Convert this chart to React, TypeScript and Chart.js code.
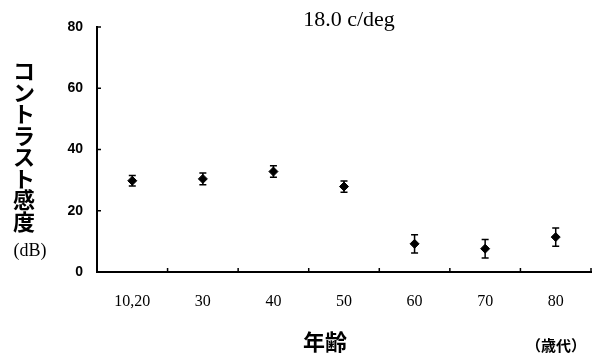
import React, { useEffect, useRef } from "react";
import { Chart, registerables } from "chart.js";

Chart.register(...registerables);

const categories = ["10,20", "30", "40", "50", "60", "70", "80"];
const means = [29.8, 30.4, 32.8, 27.9, 9.2, 7.6, 11.4];
const errors = [1.7, 1.9, 1.9, 1.85, 3.0, 3.0, 3.0];
const yTickValues = [0, 20, 40, 60, 80];

const titleText = "18.0 c/deg";
const yTitleText = "コントラスト感度";
const yUnitText = "(dB)";
const xTitleText = "年齢";
const xUnitText = "（歳代）";

const SERIF = "'Liberation Serif', 'Times New Roman', serif";
const SANS = "'Liberation Sans', Arial, sans-serif";
const CJK = "'Noto Sans CJK JP', 'Noto Sans CJK SC', sans-serif";

const decorPlugin = {
  id: "decor",
  afterDatasetsDraw(chart: any) {
    const ctx = chart.ctx;
    const x = chart.scales.x;
    const y = chart.scales.y;
    const area = chart.chartArea;
    ctx.save();
    ctx.strokeStyle = "#000";
    ctx.lineWidth = 1.5;
    means.forEach((m, i) => {
      const px = x.getPixelForValue(i);
      const top = y.getPixelForValue(m + errors[i]);
      const bot = y.getPixelForValue(m - errors[i]);
      ctx.beginPath();
      ctx.moveTo(px, top);
      ctx.lineTo(px, bot);
      ctx.moveTo(px - 3.5, top);
      ctx.lineTo(px + 3.5, top);
      ctx.moveTo(px - 3.5, bot);
      ctx.lineTo(px + 3.5, bot);
      ctx.stroke();
    });
    yTickValues.forEach((v) => {
      const py = y.getPixelForValue(v);
      ctx.beginPath();
      ctx.moveTo(area.left, py);
      ctx.lineTo(area.left + 4, py);
      ctx.stroke();
    });
    const step = (area.right - area.left) / categories.length;
    for (let i = 1; i <= categories.length; i++) {
      const px = area.left + i * step;
      ctx.beginPath();
      ctx.moveTo(px, area.bottom);
      ctx.lineTo(px, area.bottom - 4);
      ctx.stroke();
    }
    ctx.restore();
  },
  afterDraw(chart: any) {
    const ctx = chart.ctx;
    ctx.save();
    ctx.fillStyle = "#000";
    ctx.font = `22px ${SERIF}`;
    ctx.textAlign = "center";
    ctx.textBaseline = "middle";
    ctx.fillText(titleText, 349, 20);
    ctx.font = `bold 22px ${CJK}`;
    const chars = Array.from(yTitleText);
    chars.forEach((c, i) => {
      ctx.fillText(c, 24, 71 + i * 21.5);
    });
    ctx.font = `18px ${SERIF}`;
    ctx.fillText(yUnitText, 30, 251);
    ctx.font = `bold 22px ${CJK}`;
    ctx.fillText(xTitleText, 325, 342);
    ctx.font = `bold 15px ${CJK}`;
    ctx.fillText(xUnitText, 556, 345);
    ctx.restore();
  },
};

export default function App() {
  const ref = useRef<HTMLCanvasElement>(null);
  useEffect(() => {
    if (!ref.current) return;
    const chart = new Chart(ref.current, {
      type: "line",
      data: {
        labels: categories,
        datasets: [
          {
            data: means,
            showLine: false,
            pointStyle: "rectRot",
            pointRadius: 4.5,
            pointBackgroundColor: "#000",
            pointBorderColor: "#000",
            borderColor: "#000",
          },
        ],
      },
      options: {
        responsive: false,
        animation: false,
        events: [],
        layout: { padding: { left: 0, top: 27, right: 9, bottom: 0 } },
        plugins: {
          legend: { display: false },
          title: { display: false },
          tooltip: { enabled: false },
        },
        scales: {
          x: {
            type: "category",
            offset: true,
            grid: { display: false, drawTicks: false },
            border: { display: true, color: "#000", width: 2 },
            ticks: {
              color: "#000",
              font: { family: SERIF, size: 16 },
              padding: 20,
              maxRotation: 0,
            },
            afterFit(scale: any) {
              scale.height = 86;
            },
          },
          y: {
            min: 0,
            max: 80,
            grid: { display: false, drawTicks: false },
            border: { display: true, color: "#000", width: 2 },
            ticks: {
              stepSize: 20,
              color: "#000",
              font: { family: SANS, size: 14, weight: "bold" },
              padding: 14,
            },
            afterFit(scale: any) {
              scale.width = 97;
            },
          },
        },
      },
      plugins: [decorPlugin],
    });
    return () => chart.destroy();
  }, []);
  return (
    <div style={{ position: "fixed", left: 0, top: 0, width: 600, height: 358, background: "#fff" }}>
      <canvas ref={ref} width={600} height={358} />
    </div>
  );
}
